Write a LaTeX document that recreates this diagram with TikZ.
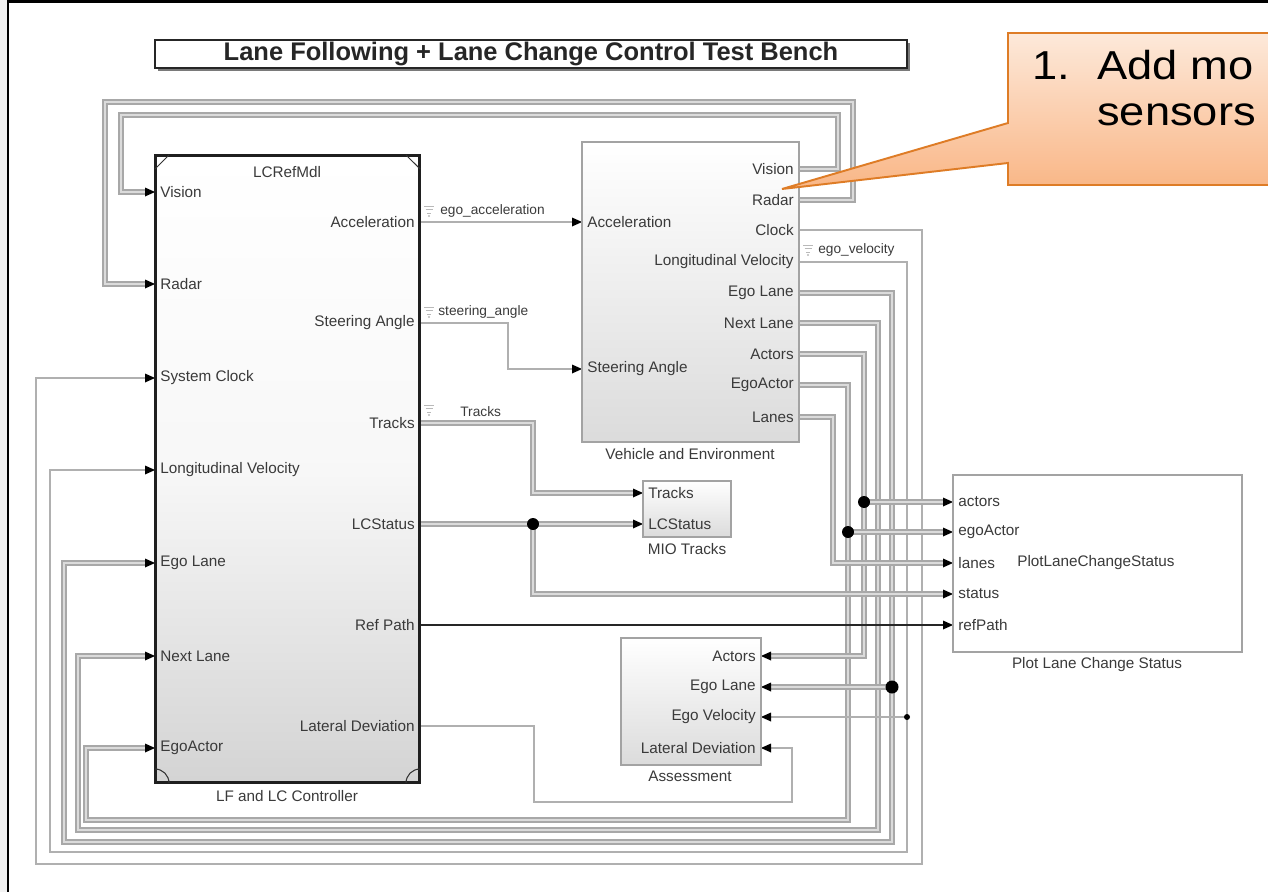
\documentclass[tikz,border=0pt]{standalone}
\usepackage{fontspec}
\usepackage{graphicx}
\setmainfont{Liberation Sans}
\usetikzlibrary{calc,arrows.meta,shadows}

\definecolor{coBorder}{RGB}{222,124,38}
\definecolor{coTop}{RGB}{253,233,218}
\definecolor{coBot}{RGB}{249,182,134}
\definecolor{lblgray}{RGB}{58,58,58}

% filled arrowheads at block ports
\newcommand\tipR[1]{\fill[black] (#1) -- ++(-10,-4.5) -- ++(0,9) -- cycle;}
\newcommand\tipL[1]{\fill[black] (#1) -- ++(10,-4.5) -- ++(0,9) -- cycle;}
% slightly widened callout lettering
\newcommand\wide[1]{\scalebox{1.12}[1]{#1}}

\begin{document}
\begin{tikzpicture}[x=0.02cm,y=-0.02cm,
  lbl/.style={font=\fontsize{8.7}{10}\selectfont, text=lblgray, inner sep=0pt},
  inlbl/.style={lbl, anchor=west},
  outlbl/.style={lbl, anchor=east},
  siglbl/.style={font=\fontsize{7.8}{9}\selectfont, text=lblgray, inner sep=0pt, anchor=west},
  bus/.style={draw=gray!68, line width=0.85pt, double=gray!28, double distance=1.2pt, shorten >=4pt},
  sig/.style={draw=gray!62, line width=0.85pt, shorten >=4pt},
  refline/.style={draw=black!85, line width=1.3pt, shorten >=4pt},
  junction/.style={fill=black},
  blk/.style={draw=gray!72, line width=1.3pt, top color=white, bottom color=gray!28,
    inner sep=0pt, drop shadow={shadow xshift=0.8pt, shadow yshift=-0.8pt, fill=gray!55, opacity=0.7}},
  logmark/.pic={\draw[gray!55, line width=0.45pt] (-5,-5) -- (5,-5) (-3.5,-1.5) -- (3.5,-1.5) (-2,2) -- (2,2);
                \fill[gray!55] (0,5) circle (1.1);},
  cotext/.style={anchor=base west, inner sep=0pt, font=\fontsize{23}{26}\selectfont}
]
\useasboundingbox (0,0) rectangle (1268,892);
\begin{scope}
\clip (0,0) rectangle (1268,892);

% page frame
\fill[gray!10] (0,0) rectangle (7,892);
\draw[black, line width=1.5pt] (8,892) -- (8,1.5) -- (1268,1.5);

% title banner
\node[draw=black!85, line width=1.1pt, fill=white, minimum width=15.04cm, minimum height=0.56cm, inner sep=0pt,
      drop shadow={shadow xshift=1.6pt, shadow yshift=-1.6pt, fill=black!65, opacity=0.8},
      font=\bfseries\fontsize{14.5}{16}\selectfont, text=black!85] (title) at (531,54)
      {Lane Following + Lane Change Control Test Bench};

% ---------- port coordinates ----------
% controller inputs / outputs
\coordinate (c-vis) at (155,192);
\coordinate (c-rad) at (155,284);
\coordinate (c-clk) at (155,378);
\coordinate (c-lv)  at (155,470);
\coordinate (c-el)  at (155,563);
\coordinate (c-nl)  at (155,656);
\coordinate (c-ea)  at (155,748);
\coordinate (c-acc) at (420,222);
\coordinate (c-st)  at (420,323);
\coordinate (c-tr)  at (420,423);
\coordinate (c-lcs) at (420,524);
\coordinate (c-rp)  at (420,625);
\coordinate (c-ld)  at (420,726);
% vehicle and environment
\coordinate (v-acc) at (582,222);
\coordinate (v-st)  at (582,369);
\coordinate (v-vis) at (799,169);
\coordinate (v-rad) at (799,200);
\coordinate (v-clk) at (799,230);
\coordinate (v-lv)  at (799,262);
\coordinate (v-el)  at (799,293);
\coordinate (v-nl)  at (799,323);
\coordinate (v-act) at (799,354);
\coordinate (v-ea)  at (799,385);
\coordinate (v-ln)  at (799,417);
% MIO tracks
\coordinate (m-tr)  at (643,493);
\coordinate (m-lcs) at (643,524);
% plot lane change status
\coordinate (p-act) at (953,502);
\coordinate (p-ea)  at (953,532);
\coordinate (p-ln)  at (953,563);
\coordinate (p-st)  at (953,594);
\coordinate (p-rp)  at (953,625);
% assessment
\coordinate (a-act) at (761,656);
\coordinate (a-el)  at (761,687);
\coordinate (a-ev)  at (761,717);
\coordinate (a-ld)  at (761,748);
% branch points
\coordinate (j-lcs) at (533,524);
\coordinate (j-act) at (864,502);
\coordinate (j-ea)  at (848,532);
\coordinate (j-el)  at (892,687);
\coordinate (j-ev)  at (907,717);

% ---------- wires ----------
% sensor feedback loops over the top
\draw[bus] (v-vis) -- (838,169) -- (838,115) -- (121,115) -- (121,192) -- (c-vis);
\draw[bus] (v-rad) -- (853,200) -- (853,102) -- (105,102) -- (105,284) -- (c-rad);
% loops under the bottom
\draw[sig] (v-clk) -- (922,230) -- (922,864) -- (36,864) -- (36,378) -- (c-clk);
\draw[sig] (v-lv)  -- (907,262) -- (907,852) -- (50,852) -- (50,470) -- (c-lv);
\draw[bus] (v-el)  -- (892,293) -- (892,842) -- (64,842) -- (64,563) -- (c-el);
\draw[bus] (v-nl)  -- (878,323) -- (878,830) -- (78,830) -- (78,656) -- (c-nl);
\draw[bus] (v-ea)  -- (848,385) -- (848,820) -- (86,820) -- (86,748) -- (c-ea);
\draw[bus] (v-act) -| (j-act) |- (a-act);
\draw[bus] (v-ln)  -- (833,417) |- (p-ln);
% branches
\draw[bus] (j-act) -- (p-act);
\draw[bus] (j-ea)  -- (p-ea);
\draw[bus] (j-el)  -- (a-el);
\draw[sig] (j-ev)  -- (a-ev);
% controller outputs
\draw[sig] (c-acc) -- (v-acc);
\draw[sig] (c-st) -- (508,323) |- (v-st);
\draw[bus] (c-tr) -- (533,423) |- (m-tr);
\draw[bus] (c-lcs) -- (m-lcs);
\draw[bus] (j-lcs) |- (p-st);
\draw[refline] (c-rp) -- (p-rp);
\draw[sig] (c-ld) -- (534,726) -- (534,802) -- (792,802) |- (a-ld);

% junction dots
\fill[junction] (j-lcs) circle (6);
\fill[junction] (j-act) circle (6);
\fill[junction] (j-ea)  circle (6);
\fill[junction] (j-el)  circle (6.5);
\fill[junction] (j-ev)  circle (3);

% arrowheads
\foreach \p in {c-vis,c-rad,c-clk,c-lv,c-el,c-nl,c-ea,v-acc,v-st,m-tr,m-lcs,p-act,p-ea,p-ln,p-st,p-rp}{\tipR{\p}}
\foreach \p in {a-act,a-el,a-ev,a-ld}{\tipL{\p}}

% signal names with logging marks
\pic at (429,211) {logmark};
\node[siglbl] (n-acc) at (440,211) {ego\_acceleration};
\pic at (429,312) {logmark};
\node[siglbl] (n-st) at (438,312) {steering\_angle};
\pic at (429,410) {logmark};
\node[siglbl] (n-tr) at (460,412) {Tracks};
\pic at (808,250) {logmark};
\node[siglbl] (n-ev) at (818,250) {ego\_velocity};

% ---------- blocks ----------
% controller (model reference)
\node[draw=black!88, line width=1.7pt, top color=white, bottom color=gray!34, middle color=gray!6,
      inner sep=0pt, minimum width=5.30cm, minimum height=12.56cm] (ctl) at (287.5,469) {};
\draw[black!80, line width=0.6pt] (155,169) -- (169,155) (406,155) -- (420,169)
  (155,769) .. controls (162.7,769) and (169,775.3) .. (169,783)
  (406,783) .. controls (406,775.3) and (412.3,769) .. (420,769);
\node[lbl, anchor=center] (ctl-ref) at (287,172) {LCRefMdl};
\node[lbl, anchor=north] (ctl-name) at (287,790) {LF and LC Controller};
\node[inlbl] at ($(c-vis)+(5,0)$) {Vision};
\node[inlbl] at ($(c-rad)+(5,0)$) {Radar};
\node[inlbl] at ($(c-clk)+(5,0)$) {System Clock};
\node[inlbl] at ($(c-lv)+(5,0)$)  {Longitudinal Velocity};
\node[inlbl] at ($(c-el)+(5,0)$)  {Ego Lane};
\node[inlbl] at ($(c-nl)+(5,0)$)  {Next Lane};
\node[inlbl] at ($(c-ea)+(5,0)$)  {EgoActor};
\node[outlbl] at ($(c-acc)+(-5,0)$) {Acceleration};
\node[outlbl] at ($(c-st)+(-5,0)$)  {Steering Angle};
\node[outlbl] at ($(c-tr)+(-5,0)$)  {Tracks};
\node[outlbl] at ($(c-lcs)+(-5,0)$) {LCStatus};
\node[outlbl] at ($(c-rp)+(-5,0)$)  {Ref Path};
\node[outlbl] at ($(c-ld)+(-5,0)$)  {Lateral Deviation};

% vehicle and environment
\node[blk, minimum width=4.34cm, minimum height=6.00cm] (venv) at (690.5,292) {};
\node[lbl, anchor=north] (venv-name) at (690,448) {Vehicle and Environment};
\node[inlbl] at ($(v-acc)+(5,0)$) {Acceleration};
\node[inlbl] at ($(v-st)+(5,0)$)  {Steering Angle};
\node[outlbl] at ($(v-vis)+(-5,0)$) {Vision};
\node[outlbl] at ($(v-rad)+(-5,0)$) {Radar};
\node[outlbl] at ($(v-clk)+(-5,0)$) {Clock};
\node[outlbl] at ($(v-lv)+(-5,0)$)  {Longitudinal Velocity};
\node[outlbl] at ($(v-el)+(-5,0)$)  {Ego Lane};
\node[outlbl] at ($(v-nl)+(-5,0)$)  {Next Lane};
\node[outlbl] at ($(v-act)+(-5,0)$) {Actors};
\node[outlbl] at ($(v-ea)+(-5,0)$)  {EgoActor};
\node[outlbl] at ($(v-ln)+(-5,0)$)  {Lanes};

% MIO tracks
\node[blk, minimum width=1.76cm, minimum height=1.12cm] (mio) at (687,509) {};
\node[lbl, anchor=north] (mio-name) at (687,543) {MIO Tracks};
\node[inlbl] at ($(m-tr)+(5,0)$)  {Tracks};
\node[inlbl] at ($(m-lcs)+(5,0)$) {LCStatus};

% plot lane change status
\node[blk, top color=white, bottom color=white, minimum width=5.78cm, minimum height=3.54cm] (plot) at (1097.5,563.5) {};
\node[lbl, anchor=north] (plot-name) at (1097,657) {Plot Lane Change Status};
\node[lbl, anchor=west] (plot-fn) at (1017,563) {PlotLaneChangeStatus};
\node[inlbl] at ($(p-act)+(5,0)$) {actors};
\node[inlbl] at ($(p-ea)+(5,0)$)  {egoActor};
\node[inlbl] at ($(p-ln)+(5,0)$)  {lanes};
\node[inlbl] at ($(p-st)+(5,0)$)  {status};
\node[inlbl] at ($(p-rp)+(5,0)$)  {refPath};

% assessment
\node[blk, minimum width=2.80cm, minimum height=2.54cm] (assess) at (691,701.5) {};
\node[lbl, anchor=north] (assess-name) at (690,771) {Assessment};
\node[outlbl] at ($(a-act)+(-5,0)$) {Actors};
\node[outlbl] at ($(a-el)+(-5,0)$)  {Ego Lane};
\node[outlbl] at ($(a-ev)+(-5,0)$)  {Ego Velocity};
\node[outlbl] at ($(a-ld)+(-5,0)$)  {Lateral Deviation};

% ---------- callout ----------
\coordinate (co-tip) at (782,189);
\path[draw=coBorder, line width=1.1pt, line join=miter, top color=coTop, bottom color=coBot]
  (1008,33) -- (1300,33) -- (1300,185) -- (1008,185) -- (1008,163) -- (co-tip) -- (1008,123) -- cycle;
\node[cotext] (co-num) at (1032,80) {\wide{1.}};
\node[cotext] (co-l1) at (1097,80) {\wide{Add mo}};
\node[cotext] (co-l2) at (1097,126) {\wide{sensors}};
\end{scope}
\end{tikzpicture}
\end{document}
